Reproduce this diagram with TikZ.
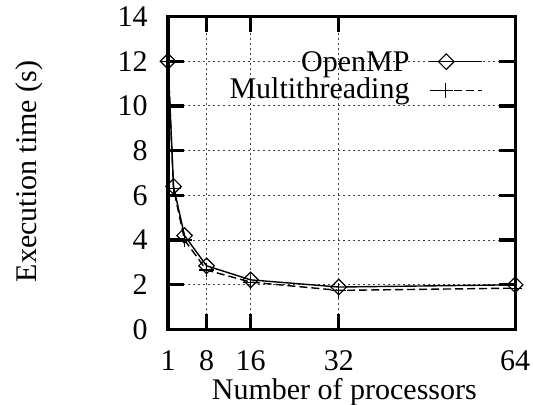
\documentclass[tikz,border=0pt]{standalone}
\usepackage{fontspec}
\setmainfont{Liberation Serif}
\usetikzlibrary{shapes.geometric,shapes.misc}

\begin{document}
\begin{tikzpicture}[
  font=\fontsize{15}{18}\selectfont,
  axisframe/.style={draw=black,line width=1.6pt},
  axistick/.style={draw=black,line width=1.6pt},
  gridline/.style={draw=black!75,line width=.5pt,dash pattern=on .9pt off 1.6pt},
  xlab/.style={anchor=base,inner sep=0pt,yshift=-20.25pt},
  ylab/.style={anchor=east,inner sep=0pt,xshift=-10pt},
  keytext/.style={anchor=base east,inner sep=0pt},
  omark/.style={draw=black,shape=diamond,line width=.6pt,inner sep=0pt,minimum size=8pt},
  mmark/.style={draw=black,cross out,rotate=45,line width=.6pt,inner sep=0pt,minimum size=4.6pt},
  ompline/.style={draw=black,line width=.7pt},
  mtline/.style={draw=black,line width=.7pt,dash pattern=on 4pt off 2pt}
]
\useasboundingbox (0,0) rectangle (266.5pt,202pt);

\begin{scope}[shift={(81.245pt,37.25pt)},x=2.755pt,y=11.18pt]
\foreach \x in {8,16,32}
  \draw[gridline] (\x,0) -- (\x,14);
\foreach \y in {2,4,...,12}
  \draw[gridline] (1,\y) -- (64,\y);

\foreach \x in {8,16,32} {
  \draw[axistick] (\x,0) -- ++(0,8pt);
  \draw[axistick] (\x,14) -- ++(0,-8pt);
}
\foreach \y in {2,4,...,12} {
  \draw[axistick] (1,\y) -- ++(8pt,0);
  \draw[axistick] (64,\y) -- ++(-8pt,0);
}
\draw[axisframe] (1,0) rectangle (64,14);

\foreach \x in {1,8,16,32,64}
  \node[xlab] (xl\x) at (\x,0) {\x};
\foreach \y in {0,2,...,14}
  \node[ylab] (yl\y) at (1,\y) {\y};

\node[anchor=base,inner sep=0pt,yshift=-34.75pt] (xtitle) at (33,0) {Number of processors};
\node[anchor=base,inner sep=0pt,rotate=90] (ytitle) at (-22.8,7.07) {Execution time (s)};

% measured times
\foreach \n/\x/\y in {1/1/12.0,2/2/6.4,3/4/4.2,4/8/2.85,5/16/2.22,6/32/1.9,7/64/2.0}
  \node[omark] (o\n) at (\x,\y) {};
\foreach \n/\x/\y in {1/1/12.0,2/2/6.3,3/4/4.0,4/8/2.66,5/16/2.12,6/32/1.75,7/64/1.85}
  \node[mmark] (m\n) at (\x,\y) {};

\draw[ompline] (o1.center) -- (o2.center) -- (o3.center) -- (o4.center)
  -- (o5.center) -- (o6.center) -- (o7.center);
\draw[mtline] (m1.center) -- (m2.center) -- (m3.center) -- (m4.center)
  -- (m5.center) -- (m6.center) -- (m7.center);

% key
\node[keytext] (komp) at (44.9,11.56) {OpenMP};
\node[keytext] (kmt) at (44.9,10.31) {Multithreading};
\coordinate (kompa) at (48.5,11.98);
\coordinate (kompb) at (58,11.98);
\coordinate (kmta) at (48.5,10.68);
\coordinate (kmtb) at (58,10.68);
\node[omark] (kompm) at (51.5,11.98) {};
\node[mmark] (kmtm) at (51.3,10.68) {};
\draw[ompline] (kompa) -- (kompb);
\draw[mtline] (kmta) -- (kmtb);
\end{scope}
\end{tikzpicture}
\end{document}
